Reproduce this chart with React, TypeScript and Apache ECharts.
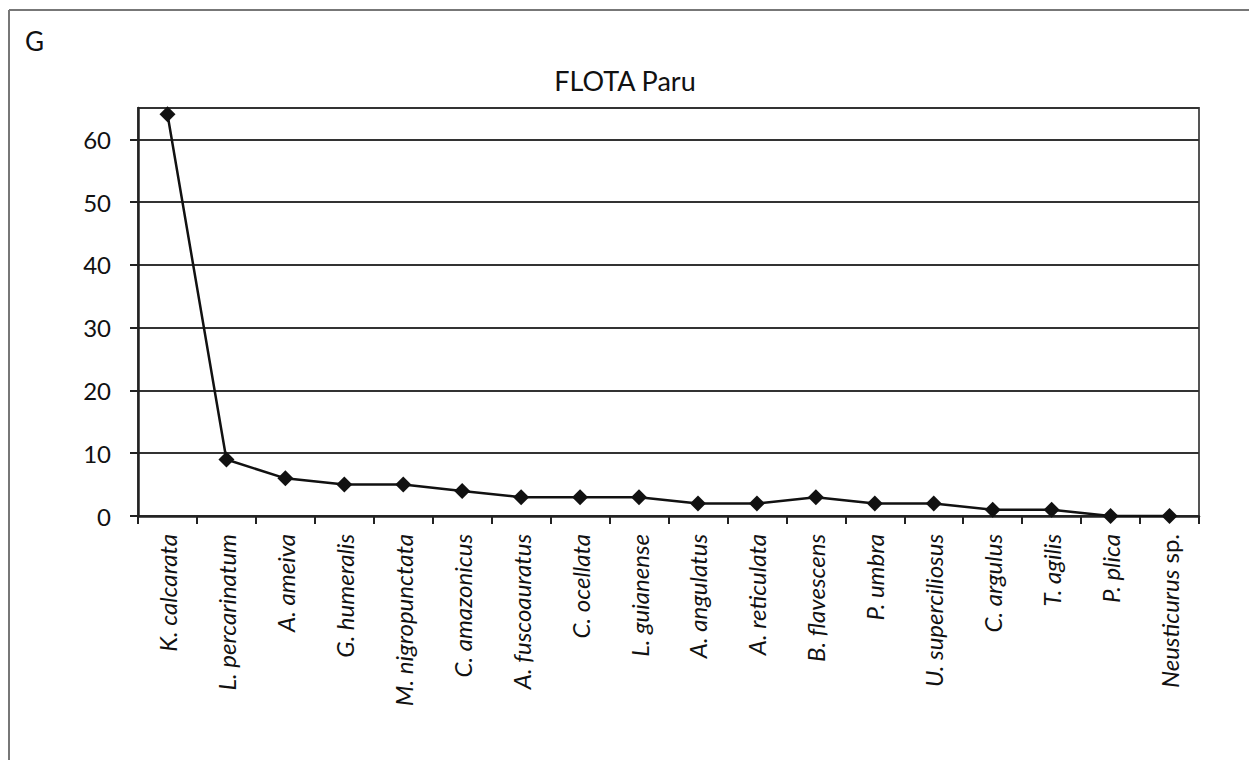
import React, { useEffect, useRef } from "react";
import * as echarts from "echarts";

const categories = [
  "K. calcarata", "L. percarinatum", "A. ameiva", "G. humeralis", "M. nigropunctata",
  "C. amazonicus", "A. fuscoauratus", "C. ocellata", "L. guianense", "A. angulatus",
  "A. reticulata", "B. flavescens", "P. umbra", "U. superciliosus", "C. argulus",
  "T. agilis", "P. plica", "Neusticurus sp.",
];
const values = [64, 9, 6, 5, 5, 4, 3, 3, 3, 2, 2, 3, 2, 2, 1, 1, 0, 0];
const yTicks = [0, 10, 20, 30, 40, 50, 60];
const chartTitle = "FLOTA Paru";
const panelLetter = "G";

const FONT = "Lato, 'Open Sans', sans-serif";

export default function App() {
  const ref = useRef<HTMLDivElement>(null);
  useEffect(() => {
    if (!ref.current) return;
    const chart = echarts.init(ref.current, undefined, { renderer: "svg" });
    chart.setOption({
      animation: false,
      backgroundColor: "#fff",
      title: {
        text: chartTitle,
        left: 620,
        textAlign: "center",
        top: 62,
        textStyle: { fontFamily: FONT, fontSize: 27, fontWeight: "normal", color: "#111" },
      },
      graphic: [
        { type: "line", shape: { x1: 9, y1: 10, x2: 1249, y2: 10 }, style: { stroke: "#777", lineWidth: 2 } },
        { type: "line", shape: { x1: 9, y1: 10, x2: 9, y2: 760 }, style: { stroke: "#777", lineWidth: 2 } },
        {
          type: "text", left: 25, top: 28,
          style: { text: panelLetter, fontFamily: FONT, fontSize: 26, fill: "#111" },
        },
      ],
      grid: {
        left: 138, top: 108, right: 50, bottom: 244,
        show: true, borderColor: "#555", borderWidth: 2, backgroundColor: "#fff",
      },
      xAxis: {
        type: "category",
        data: categories,
        boundaryGap: true,
        axisLine: { lineStyle: { color: "#222", width: 2.5 } },
        axisTick: { show: true, alignWithLabel: false, length: 8, lineStyle: { color: "#222", width: 2 } },
        axisLabel: {
          rotate: 90,
          margin: 18,
          interval: 0,
          color: "#111",
          fontFamily: FONT,
          fontSize: 24,
          formatter: (v: string) => {
            if (v.endsWith(" sp.")) return "{i|" + v.slice(0, -4) + "} {n|sp.}";
            return "{i|" + v + "}";
          },
          rich: {
            i: { fontStyle: "italic", fontFamily: FONT, fontSize: 24, color: "#111" },
            n: { fontStyle: "normal", fontFamily: FONT, fontSize: 24, color: "#111" },
          },
        },
        splitLine: { show: false },
      },
      yAxis: {
        type: "value",
        min: 0,
        max: 65,
        interval: 10,
        axisLine: { show: true, lineStyle: { color: "#222", width: 2.5 } },
        axisTick: { show: true, length: 8, lineStyle: { color: "#222", width: 2 } },
        axisLabel: {
          margin: 27,
          color: "#111",
          fontFamily: FONT,
          fontSize: 24,
          showMaxLabel: false,
          formatter: (v: number) => (yTicks.includes(v) ? String(v) : ""),
        },
        splitLine: { show: true, lineStyle: { color: "#333", width: 2 } },
      },
      series: [
        {
          type: "line",
          data: values,
          symbol: "diamond",
          symbolSize: 16,
          lineStyle: { color: "#111", width: 2.5 },
          itemStyle: { color: "#111" },
        },
      ],
    });
    return () => chart.dispose();
  }, []);
  return (
    <div
      ref={ref}
      style={{ position: "fixed", left: 0, top: 0, width: 1249, height: 760 }}
    />
  );
}
